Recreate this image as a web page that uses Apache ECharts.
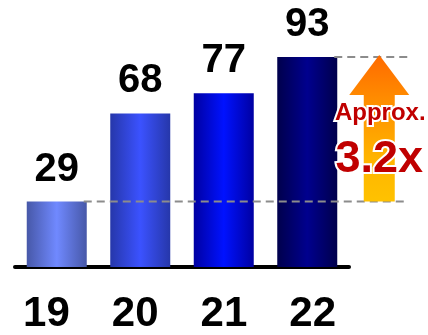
<!DOCTYPE html>
<html>
<head>
<meta charset="utf-8">
<script src="https://cdn.jsdelivr.net/npm/echarts@6/dist/echarts.min.js"></script>
<style>
  html, body { margin: 0; padding: 0; background: #fff; }
  #chart { width: 428px; height: 335px; }
</style>
</head>
<body>
<div id="chart"></div>
<script>
// Fiscal years and values
const years = ['19', '20', '21', '22'];
const values = [29, 68, 77, 93];

// Per-bar shading: edge colour and centre highlight
const barEdge = ['#4758a8', '#2637aa', '#0000a2', '#00004c'];
const barMid = ['#7089ff', '#3b52ff', '#0012ff', '#00008e'];

const FONT = '"Liberation Sans", Arial, sans-serif';

const chart = echarts.init(document.getElementById('chart'), null, { renderer: 'canvas' });

const firstVal = values[0];
const lastVal = values[values.length - 1];
const ratioText = (lastVal / firstVal).toFixed(1) + 'x';

const barData = values.map((v, i) => ({
  value: v,
  itemStyle: {
    color: new echarts.graphic.LinearGradient(0, 0, 1, 0, [
      { offset: 0, color: barEdge[i] },
      { offset: 0.5, color: barMid[i] },
      { offset: 1, color: barEdge[i] }
    ])
  }
}));

const BAR_W = 60;

// Dashed reference lines at the first and last year's level
function renderRefLine(params, api) {
  const p = api.coord([api.value(0), api.value(1)]);
  const cs = params.coordSys;
  const x0 = p[0] + BAR_W / 2 - 3;
  const x1 = cs.x + cs.width + 59;
  return {
    type: 'line',
    z2: 10,
    shape: { x1: x0, y1: p[1], x2: x1, y2: p[1] },
    style: { stroke: '#8c8c8c', lineWidth: 2, lineDash: [8, 5] }
  };
}

// Growth arrow from the first year's level up to the last year's level
function renderArrow(params, api) {
  const base = api.coord([api.value(0), api.value(1)]);
  const tip = api.coord([api.value(0), api.value(2)]);
  const cx = base[0] + 72;
  const tipY = tip[1] - 2;
  const headH = 40, headW = 60, shaftW = 31;
  const pts = [
    [cx, tipY],
    [cx + headW / 2, tipY + headH],
    [cx + shaftW / 2, tipY + headH],
    [cx + shaftW / 2, base[1]],
    [cx - shaftW / 2, base[1]],
    [cx - shaftW / 2, tipY + headH],
    [cx - headW / 2, tipY + headH]
  ];
  const txtStyle = {
    fill: '#c00000',
    fontFamily: FONT,
    fontWeight: 'bold',
    align: 'center',
    verticalAlign: 'middle',
    stroke: '#ffffff',
    lineWidth: 4,
    shadowColor: '#ffffff',
    shadowBlur: 5
  };
  return {
    type: 'group',
    children: [
      {
        type: 'polygon',
        shape: { points: pts },
        style: {
          fill: new echarts.graphic.LinearGradient(0, 0, 0, 1, [
            { offset: 0, color: '#ff6a00' },
            { offset: 0.3, color: '#ff8c00' },
            { offset: 0.7, color: '#ffb400' },
            { offset: 1, color: '#ffc200' }
          ])
        }
      },
      {
        type: 'text',
        x: cx + 1,
        y: tipY + 58,
        style: Object.assign({}, txtStyle, { text: 'Approx.', fontSize: 24 })
      },
      {
        type: 'text',
        x: cx,
        y: tipY + 105,
        style: Object.assign({}, txtStyle, { text: ratioText, fontSize: 45 })
      }
    ]
  };
}

const option = {
  animation: false,
  backgroundColor: '#ffffff',
  grid: [
    { left: 15, right: 79, top: 41.2, bottom: 68 },
    { left: 2, width: 355, top: 41.2, bottom: 68 }
  ],
  xAxis: [
    {
      type: 'category',
      gridIndex: 0,
      data: years,
      axisLine: { show: true, lineStyle: { color: '#000', width: 4 } },
      axisTick: { show: false },
      axisLabel: { show: false },
      splitLine: { show: false }
    },
    {
      type: 'category',
      gridIndex: 1,
      data: years,
      axisLine: { show: false },
      axisTick: { show: false },
      axisLabel: {
        show: true,
        margin: 28,
        color: '#000',
        fontFamily: FONT,
        fontWeight: 'bold',
        fontSize: 42
      },
      splitLine: { show: false }
    }
  ],
  yAxis: [
    { type: 'value', gridIndex: 0, min: 0, max: 100, show: false },
    { type: 'value', gridIndex: 1, min: 0, max: 100, show: false }
  ],
  series: [
    {
      type: 'bar',
      xAxisIndex: 0,
      yAxisIndex: 0,
      data: barData,
      barWidth: BAR_W,
      z: 2,
      label: {
        show: true,
        position: 'top',
        distance: 12,
        color: '#000',
        fontFamily: FONT,
        fontWeight: 'bold',
        fontSize: 40
      }
    },
    {
      type: 'custom',
      xAxisIndex: 0,
      yAxisIndex: 0,
      z: 4,
      renderItem: renderRefLine,
      data: [[0, firstVal], [years.length - 1, lastVal]],
      silent: true
    },
    {
      type: 'custom',
      xAxisIndex: 0,
      yAxisIndex: 0,
      z: 5,
      renderItem: renderArrow,
      data: [[years.length - 1, firstVal, lastVal]],
      silent: true
    }
  ]
};

chart.setOption(option);
</script>
</body>
</html>
